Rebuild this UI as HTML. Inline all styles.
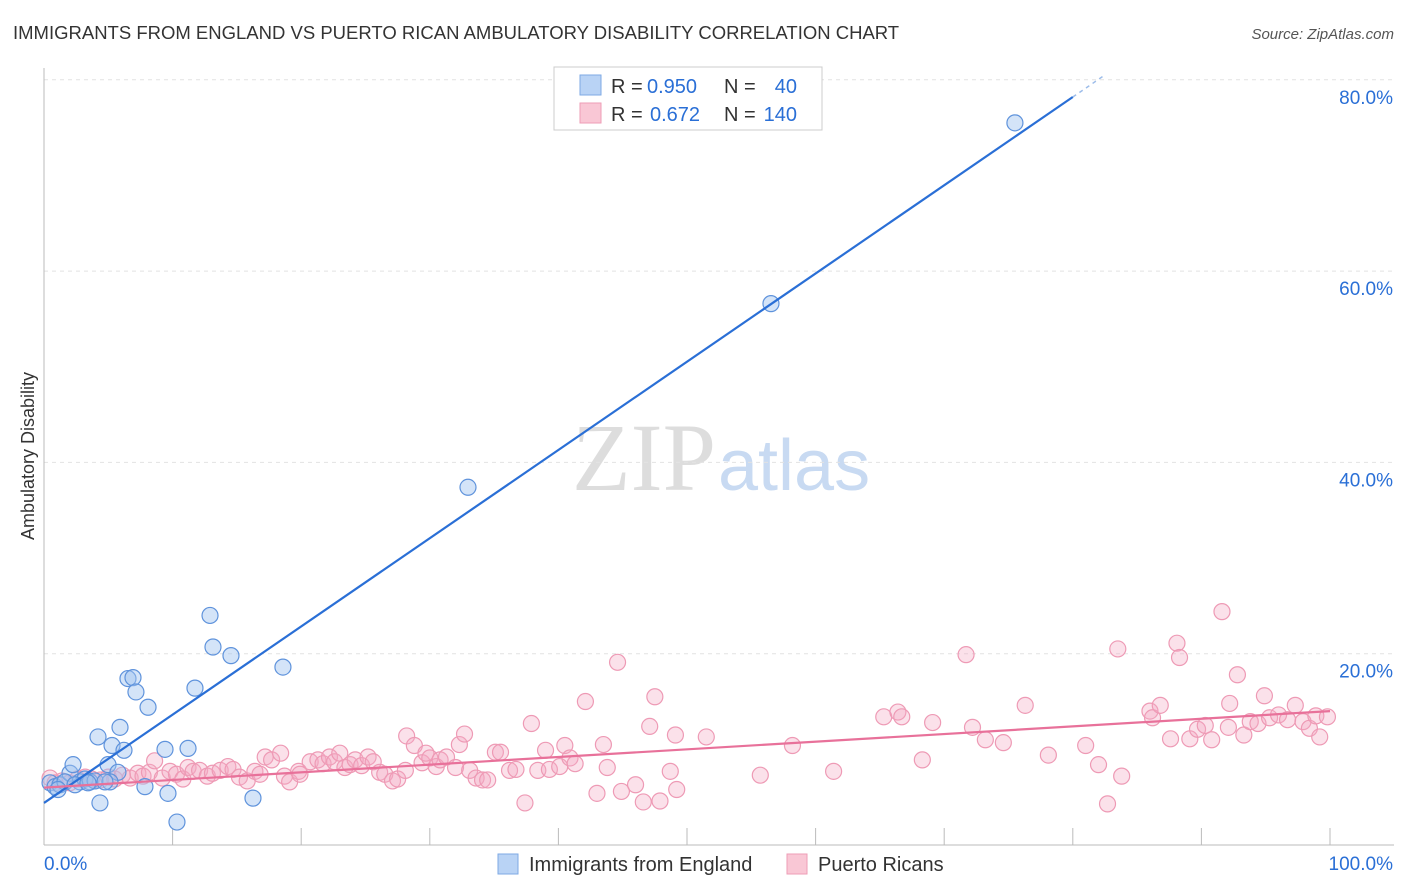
<!DOCTYPE html>
<html><head><meta charset="utf-8"><style>
body{margin:0;background:#fff;font-family:"Liberation Sans",sans-serif;}
#wrap{position:relative;width:1406px;height:892px;overflow:hidden;}
</style></head><body><div id="wrap">
<svg id="svg" width="1406" height="892" xmlns="http://www.w3.org/2000/svg">
<text x="13" y="39" font-size="18.5" fill="#333">IMMIGRANTS FROM ENGLAND VS PUERTO RICAN AMBULATORY DISABILITY CORRELATION CHART</text>
<text x="1394" y="39" font-size="15" fill="#555" font-style="italic" text-anchor="end">Source: ZipAtlas.com</text>
<text x="34" y="456" font-size="18" fill="#333" text-anchor="middle" transform="rotate(-90 34 456)">Ambulatory Disability</text>
<text x="716" y="490" font-size="96" fill="#ddd" text-anchor="end" font-family="Liberation Serif,serif">ZIP</text>
<text x="718" y="490" font-size="72" fill="#c8daf2">atlas</text>
<g id="grid"></g><g id="pts"></g><g id="lines"></g>
<g>
<rect x="554" y="67" width="268" height="63" fill="#fff" stroke="#ccc"/>
<rect x="580" y="75" width="21" height="20" fill="#b9d3f5" stroke="#7ea9e4"/>
<rect x="580" y="103" width="21" height="20" fill="#f9c7d5" stroke="#ee9cb6"/>
<text x="611" y="93" font-size="20" fill="#333">R =</text>
<text x="647" y="93" font-size="20" fill="#2a6fd6">0.950</text>
<text x="724" y="93" font-size="20" fill="#333">N =</text>
<text x="797" y="93" font-size="20" fill="#2a6fd6" text-anchor="end">40</text>
<text x="611" y="121" font-size="20" fill="#333">R =</text>
<text x="650" y="121" font-size="20" fill="#2a6fd6">0.672</text>
<text x="724" y="121" font-size="20" fill="#333">N =</text>
<text x="797" y="121" font-size="20" fill="#2a6fd6" text-anchor="end">140</text>
</g>
<g>
<rect x="498" y="854" width="20" height="20" fill="#b9d3f5" stroke="#7ea9e4"/>
<text x="529" y="871" font-size="20" fill="#333">Immigrants from England</text>
<rect x="787" y="854" width="20" height="20" fill="#f9c7d5" stroke="#ee9cb6"/>
<text x="818" y="871" font-size="20" fill="#333">Puerto Ricans</text>
</g>
</svg></div>
<script>
const yTicks=[20,40,60,80];
const xTickLabels=["0.0%","100.0%"];
const blueX=[.47,.86,1.24,2.02,2.26,2.8,3.19,3.58,3.97,4.35,4.2,4.98,5.29,5.75,5.91,6.22,6.53,6.92,7.15,8.09,7.85,9.41,9.64,10.34,11.2,11.74,12.91,13.14,14.54,16.25,18.58,32.97,56.53,75.5,5.13,1.63,2.41,3.42,4.74,1.09];
const blueY=[6.5,6.1,6.3,7.5,8.4,6.6,6.9,6.6,6.7,4.4,11.3,8.4,10.4,7.6,12.3,9.9,17.4,17.5,16.0,14.4,6.1,10.0,5.4,2.4,10.1,16.4,24.0,20.7,19.8,4.9,18.6,37.4,56.6,75.5,6.6,6.6,6.3,6.5,6.6,5.8];
const pinkX=[.47,.86,1.4,2.0,2.6,3.2,3.7,4.4,5.0,5.5,6.1,6.7,7.3,7.7,8.2,8.6,9.2,9.8,10.3,10.8,11.2,11.6,12.1,12.7,13.1,13.7,14.3,14.7,15.2,15.8,16.4,16.8,17.2,17.7,18.4,18.7,19.1,19.8,19.9,20.7,21.3,21.7,22.2,22.6,23.0,23.4,23.8,24.2,24.7,25.2,25.6,26.1,26.5,27.1,27.5,28.1,28.2,28.8,29.4,29.7,30.0,30.5,30.8,31.3,32.0,32.3,32.7,33.1,33.6,34.1,34.5,35.1,35.5,36.2,36.7,37.4,37.9,38.4,39.0,39.3,40.1,40.5,40.9,41.3,42.1,43.0,43.5,43.8,44.6,44.9,46.0,46.6,47.1,47.5,47.9,48.7,49.1,49.2,51.5,55.7,58.2,61.4,65.3,66.4,66.7,68.3,69.1,71.7,72.2,73.2,74.6,76.3,78.1,81.0,82.0,82.7,83.5,83.8,86.0,86.2,86.8,87.6,88.1,88.3,89.1,89.7,90.3,90.8,91.6,92.1,92.2,92.8,93.3,93.8,94.4,94.9,95.3,96.0,96.7,97.3,97.9,98.4,98.9,99.2,99.8];
const pinkY=[7.0,6.5,6.7,6.5,6.9,7.1,6.9,6.8,7.1,6.9,7.3,7.0,7.5,7.2,7.6,8.8,7.0,7.7,7.4,6.9,8.1,7.7,7.8,7.2,7.5,7.8,8.2,7.9,7.1,6.7,7.7,7.4,9.2,8.9,9.6,7.2,6.6,7.7,7.4,8.7,8.9,8.5,9.2,8.7,9.6,8.1,8.4,8.9,8.3,9.2,8.7,7.6,7.4,6.7,6.9,7.8,11.4,10.4,8.6,9.6,9.1,8.2,8.9,9.2,8.1,10.5,11.6,7.8,7.0,6.8,6.8,9.7,9.7,7.8,7.9,4.4,12.7,7.8,9.9,7.9,8.2,10.4,9.1,8.5,15.0,5.4,10.5,8.1,19.1,5.6,6.3,4.5,12.4,15.5,4.6,7.7,11.5,5.8,11.3,7.3,10.4,7.7,13.4,13.9,13.4,8.9,12.8,19.9,12.3,11.0,10.7,14.6,9.4,10.4,8.4,4.3,20.5,7.2,14.0,13.3,14.6,11.1,21.1,19.6,11.1,12.1,12.5,11.0,24.4,12.3,14.8,17.8,11.5,12.9,12.7,15.6,13.3,13.6,13.1,14.6,12.9,12.2,13.5,11.3,13.4];
const blueLine=[4.4,0.9225];
const pinkLine=[6.0,0.08];
const NS="http://www.w3.org/2000/svg";
const sx=v=>44+v*12.86, sy=v=>845-v*9.565;
function mk(t,a,p){const e=document.createElementNS(NS,t);for(const k in a)e.setAttribute(k,a[k]);p.appendChild(e);return e;}
const grid=document.getElementById('grid');
yTicks.forEach(t=>{
 const l=mk('line',{x1:44,x2:1394,y1:sy(t),y2:sy(t),stroke:'#e2e2e2','stroke-dasharray':'4,4'},grid);
 
 
 const tx=mk('text',{x:1393,y:sy(t)+24,'font-size':19,fill:'#2a6fd6','text-anchor':'end'},grid);
 tx.textContent=t.toFixed(1)+'%';
 
 
});
const ax=mk('line',{x1:44,x2:44,y1:68,y2:845,stroke:'#bbb'},grid);


const bx=mk('line',{x1:44,x2:1394,y1:845,y2:845,stroke:'#bbb'},grid);


for(let i=0;i<=10;i++){const t=mk('line',{x1:sx(i*10),x2:sx(i*10),y1:828,y2:845,stroke:'#bbb'},grid);
 
 }
const xl0=mk('text',{x:44,y:870,'font-size':19,fill:'#2a6fd6'},grid);xl0.textContent=xTickLabels[0];


const xl1=mk('text',{x:1393,y:870,'font-size':19,fill:'#2a6fd6','text-anchor':'end'},grid);xl1.textContent=xTickLabels[1];


const pts=document.getElementById('pts');
pinkX.forEach((x,i)=>{const c=mk('circle',{cx:sx(x),cy:sy(pinkY[i]),r:8,fill:'rgba(244,170,194,0.35)',stroke:'#ee9ab5','stroke-width':1.2},pts);
 
 });
blueX.forEach((x,i)=>{const c=mk('circle',{cx:sx(x),cy:sy(blueY[i]),r:8,fill:'rgba(160,195,240,0.45)',stroke:'#5f93dc','stroke-width':1.2},pts);
 
 });
const lines=document.getElementById('lines');
const b1=mk('line',{x1:sx(0),y1:sy(blueLine[0]),x2:sx(80),y2:sy(blueLine[0]+80*blueLine[1]),stroke:'#2a6fd6','stroke-width':2.2},lines);


const b2=mk('line',{x1:sx(80),y1:sy(blueLine[0]+80*blueLine[1]),x2:sx(82.5),y2:sy(blueLine[0]+82.5*blueLine[1]),stroke:'#9dbdea','stroke-width':1.5,'stroke-dasharray':'4,4'},lines);


const p1=mk('line',{x1:sx(0),y1:sy(pinkLine[0]),x2:sx(100),y2:sy(pinkLine[0]+100*pinkLine[1]),stroke:'#e8719a','stroke-width':2.2},lines);


</script></body></html>
